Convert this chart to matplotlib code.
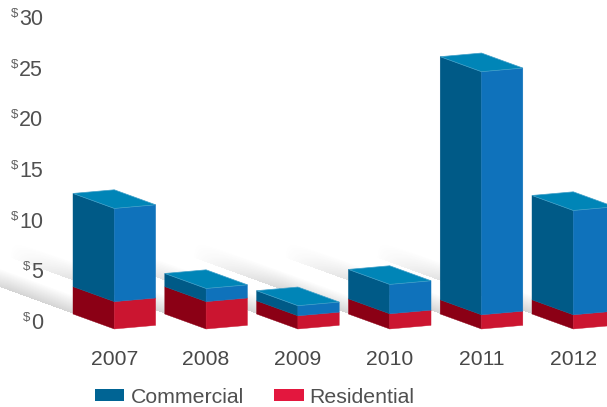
import matplotlib
matplotlib.use('Agg')
import matplotlib.pyplot as plt
import numpy as np
from matplotlib.patches import Patch, Polygon

years = ['2007', '2008', '2009', '2010', '2011', '2012']
residential = [2.7, 2.7, 1.3, 1.5, 1.4, 1.4]
commercial = [9.2, 1.3, 1.0, 2.9, 24.0, 10.3]
y_ticks = [0, 5, 10, 15, 20, 25, 30]

# the 3d look: offset of each box corner from the left one, in data units
face_w = 0.45
left_drop = 1.48
right_rise = 0.36
base = 0.79

plt.rcParams['font.family'] = ['Liberation Sans', 'DejaVu Sans']

fig = plt.figure(figsize=(6.07, 4.07), dpi=100)
ax = fig.add_axes([0, 0, 1, 1])
xlim = (-73 / 91.8, (607 - 73) / 91.8)
ylim = (-85 / 10.13, 322 / 10.13)


def draw_box(x, bottom, height, left_c, right_c, top_c=None):
    y0 = base + bottom
    y1 = y0 + height
    mid = x + face_w
    end = x + 2 * face_w
    left = [(x, y0), (mid, y0 - left_drop), (mid, y1 - left_drop), (x, y1)]
    right = [(mid, y0 - left_drop), (end, y0 - left_drop + right_rise),
             (end, y1 - left_drop + right_rise), (mid, y1 - left_drop)]
    ax.add_patch(Polygon(left, fc=left_c, ec=left_c, lw=0.3, zorder=3))
    ax.add_patch(Polygon(right, fc=right_c, ec=right_c, lw=0.3, zorder=3))
    if top_c:
        top = [(x, y1), (mid, y1 - left_drop), (end, y1 - left_drop + right_rise),
               (x + face_w, y1 + right_rise)]
        ax.add_patch(Polygon(top, fc=top_c, ec='#3f9fc8', lw=0.5, zorder=4))


def shadow_image():
    xs = np.linspace(xlim[0], xlim[1], 607)
    ys = np.linspace(ylim[1], ylim[0], 407)
    gx, gy = np.meshgrid(xs, ys)
    slope = left_drop / face_w
    thick = right_rise + face_w * slope
    keep = np.ones_like(gx)
    for i in range(len(years)):
        dist = i - gx
        u = (gy - (base + dist * slope)) / thick
        a = np.clip(1 - u, 0, 1) * 0.24 * np.clip(1.7 - dist, 0, 1)
        a[(u < 0) | (dist < 0)] = 0
        keep *= 1 - a
    rgba = np.zeros(gx.shape + (4,))
    rgba[..., :3] = 0.3
    rgba[..., 3] = 1 - keep
    return rgba


ax.imshow(shadow_image(), extent=(*xlim, *ylim), aspect='auto', zorder=1)

for i, year in enumerate(years):
    draw_box(i, 0, residential[i], '#8b0015', '#cb1530')
    draw_box(i, residential[i], commercial[i], '#005a87', '#0f72bb', '#0085b7')
    ax.text(i + face_w, -3.72, year, ha='center', va='center', fontsize=15.2,
            color='#484848')

label_x = -30 / 91.8
for tick in y_ticks:
    ax.text(label_x, tick - 0.15, str(tick), ha='right', va='center', fontsize=15.5,
            color='#505050')
    digits_w = 25 if tick >= 10 else 13
    ax.text(label_x - digits_w / 91.8, tick + 0.4, '$', ha='right', va='center',
            fontsize=9.5, color='#606060', parse_math=False)

handles = [Patch(fc='#006494'), Patch(fc='#e3173e')]
ax.legend(handles, ['Commercial', 'Residential'], loc='lower left', ncol=2,
          bbox_to_anchor=(90 / 607, -5 / 407), frameon=False, fontsize=15.3,
          handlelength=1.37, handleheight=0.47, handletextpad=0.28, columnspacing=1.45,
          labelcolor='#505050', borderpad=0.15, borderaxespad=0.1)

ax.set_xlim(*xlim)
ax.set_ylim(*ylim)
ax.axis('off')
fig.savefig('out.png', dpi=100)
